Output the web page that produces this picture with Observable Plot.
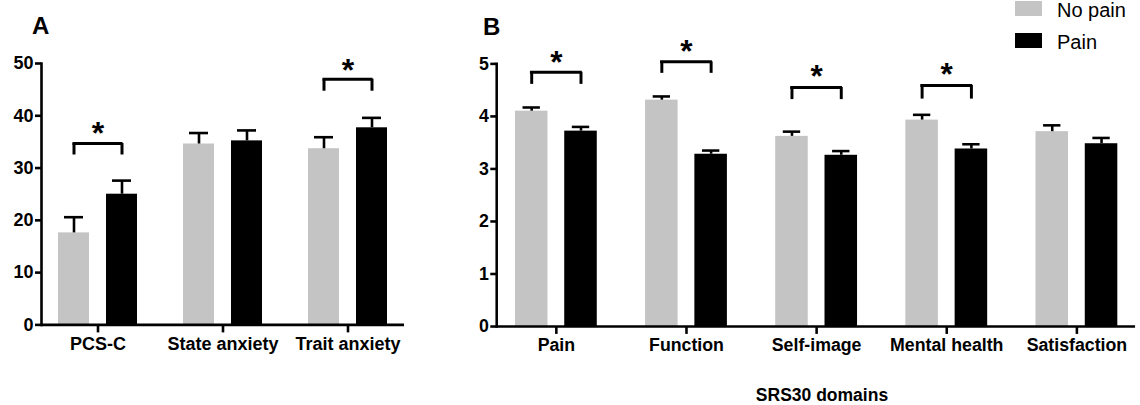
<!DOCTYPE html>
<html>
<head>
<meta charset="utf-8">
<script src="https://cdn.jsdelivr.net/npm/d3@7"></script>
<script src="https://cdn.jsdelivr.net/npm/@observablehq/plot@0.6"></script>
<style>
  html, body { margin: 0; padding: 0; background: #fff; overflow: hidden; }
  #wrap { position: relative; width: 1140px; height: 405px; overflow: hidden; font-family: "Liberation Sans", Arial, sans-serif; }
  .panel { position: absolute; top: 0; }
  .letter { position: absolute; font-weight: bold; font-size: 24px; line-height: 1; }
  .xtitle { position: absolute; font-weight: bold; font-size: 17.5px; line-height: 1; transform: translateX(-50%); white-space: nowrap; }
  .legend { position: absolute; left: 1015px; top: 0; font-size: 20px; }
  .legend .item { position: absolute; left: 0; white-space: nowrap; }
  .legend .sw { position: absolute; left: 0; width: 27px; height: 14.5px; }
  .legend .lab { position: absolute; left: 42px; line-height: 1; }
</style>
</head>
<body>
<div id="wrap"></div>
<script>
// ---------- data ----------
const groups = ["No pain", "Pain"];
const groupColors = ["#c4c4c4", "#000000"];

const catsA = ["PCS-C", "State anxiety", "Trait anxiety"];
const meanA_noPain = [17.6, 34.6, 33.7];
const errA_noPain  = [3.0, 2.1, 2.2];
const meanA_pain   = [25.0, 35.2, 37.7];
const errA_pain    = [2.6, 2.0, 1.9];
const sigA_cats    = ["PCS-C", "Trait anxiety"];
const sigA_low     = [32.5, 44.7];
const sigA_high    = [34.7, 47.0];
const sigA_star    = [38.0, 50.2];
const ticksA = [0, 10, 20, 30, 40, 50];

const catsB = ["Pain", "Function", "Self-image", "Mental health", "Satisfaction"];
const meanB_noPain = [4.10, 4.31, 3.62, 3.93, 3.71];
const errB_noPain  = [0.07, 0.07, 0.09, 0.10, 0.12];
const meanB_pain   = [3.72, 3.28, 3.26, 3.38, 3.48];
const errB_pain    = [0.08, 0.07, 0.08, 0.09, 0.11];
const sigB_cats    = ["Pain", "Function", "Self-image", "Mental health"];
const sigB_low     = [4.61, 4.82, 4.32, 4.33];
const sigB_high    = [4.84, 5.04, 4.55, 4.59];
const sigB_star    = [5.16, 5.37, 4.91, 4.94];
const ticksB = [0, 1, 2, 3, 4, 5];
const xTitleB = "SRS30 domains";

// ---------- helpers ----------
function rows(cats, means, errs) {
  return cats.map((c, i) => ({cat: c, v: means[i], top: means[i] + errs[i]}));
}
function sigRows(cats, lo, hi, st) {
  return cats.map((c, i) => ({cat: c, lo: lo[i], hi: hi[i], star: st[i]}));
}

function buildPanel(cfg) {
  const {cats, nP, eN, p, eP, sc, sl, sh, ss, ticks, width, marginLeft, marginRight, marginTop, marginBottom, height, bw, barW, capW, gap} = cfg;
  const dN = rows(cats, nP, eN);
  const dP = rows(cats, p, eP);
  const sig = sigRows(sc, sl, sh, ss);
  const half = (barW + gap) / 2;
  const sw = 2.6;
  const outer = bw / 2 - (half + barW / 2);
  return Plot.plot({
    width, height, marginLeft, marginRight, marginTop, marginBottom,
    style: {fontFamily: "'Liberation Sans', Arial, sans-serif", fontWeight: "bold", fontSize: "18px", color: "#000", overflow: "visible", background: "transparent"},
    x: {type: "band", domain: cats, paddingInner: cfg.pIn, paddingOuter: cfg.pOut},
    y: {domain: [0, ticks[ticks.length - 1]]},
    marks: [
      Plot.barY(dN, {x: "cat", y: "v", fill: groupColors[0], insetLeft: outer, insetRight: bw - outer - barW}),
      Plot.barY(dP, {x: "cat", y: "v", fill: groupColors[1], insetRight: outer, insetLeft: bw - outer - barW}),
      Plot.ruleX(dN, {x: "cat", y1: "v", y2: "top", dx: -half, stroke: "#000", strokeWidth: sw}),
      Plot.ruleX(dP, {x: "cat", y1: "v", y2: "top", dx: half, stroke: "#000", strokeWidth: sw}),
      Plot.tickY(dN, {x: "cat", y: "top", insetLeft: bw / 2 - half - capW / 2, insetRight: bw / 2 + half - capW / 2, stroke: "#000", strokeWidth: sw}),
      Plot.tickY(dP, {x: "cat", y: "top", insetLeft: bw / 2 + half - capW / 2, insetRight: bw / 2 - half - capW / 2, stroke: "#000", strokeWidth: sw}),
      Plot.ruleX(sig, {x: "cat", y1: "lo", y2: "hi", dx: -half, stroke: "#000", strokeWidth: 3}),
      Plot.ruleX(sig, {x: "cat", y1: "lo", y2: "hi", dx: half, stroke: "#000", strokeWidth: 3}),
      Plot.tickY(sig, {x: "cat", y: "hi", insetLeft: bw / 2 - half - 1.5, insetRight: bw / 2 - half - 1.5, stroke: "#000", strokeWidth: 3}),
      Plot.text(sig, {x: "cat", y: "star", text: () => "*", fontSize: 32, fontWeight: "bold", dy: 8, fill: "#000"}),
      Plot.axisY({ticks, tickFormat: d3.format("d"), tickSize: 6, tickPadding: 2, strokeWidth: sw, fontSize: 18, fontWeight: "bold", fill: "#000", label: null}),
      Plot.axisX({tickSize: 8, tickPadding: 4, strokeWidth: sw, fontSize: 18, fontWeight: "bold", fill: "#000", label: null}),
      Plot.ruleY([0], {stroke: "#000", strokeWidth: sw}),
      Plot.frame({anchor: "left", stroke: "#000", strokeWidth: sw})
    ]
  });
}

const wrap = document.getElementById("wrap");

// Panel A
const svgA = buildPanel({
  cats: catsA, nP: meanA_noPain, eN: errA_noPain, p: meanA_pain, eP: errA_pain,
  sc: sigA_cats, sl: sigA_low, sh: sigA_high, ss: sigA_star, ticks: ticksA,
  width: 420, height: 405, marginLeft: 41, marginRight: 16, marginTop: 63, marginBottom: 80.6,
  pIn: 0.365, pOut: 0.123, bw: 80, barW: 32, gap: 16, capW: 20
});
const dA = document.createElement("div");
dA.className = "panel"; dA.style.left = "0px";
dA.appendChild(svgA); wrap.appendChild(dA);

// Panel B
const svgB = buildPanel({
  cats: catsB, nP: meanB_noPain, eN: errB_noPain, p: meanB_pain, eP: errB_pain,
  sc: sigB_cats, sl: sigB_low, sh: sigB_high, ss: sigB_star, ticks: ticksB,
  width: 710, height: 405, marginLeft: 57, marginRight: 5, marginTop: 64.3, marginBottom: 74.3,
  pIn: 0.372, pOut: 0.123, bw: 83.4, barW: 33.4, gap: 16.6, capW: 18
});
const dB = document.createElement("div");
dB.className = "panel"; dB.style.left = "440px";
dB.appendChild(svgB); wrap.appendChild(dB);

// Panel letters
[["A", 32, 14], ["B", 483, 15]].forEach(([t, x, y]) => {
  const el = document.createElement("div");
  el.className = "letter"; el.textContent = t;
  el.style.left = x + "px"; el.style.top = y + "px";
  wrap.appendChild(el);
});

// x-axis title of panel B
const xt = document.createElement("div");
xt.className = "xtitle"; xt.textContent = xTitleB;
xt.style.left = "822px"; xt.style.top = "387px";
wrap.appendChild(xt);

// Legend
const lg = document.createElement("div");
lg.className = "legend";
groups.forEach((g, i) => {
  const it = document.createElement("div");
  it.className = "item"; it.style.top = (1 + i * 32.4) + "px";
  const sw = document.createElement("div");
  sw.className = "sw"; sw.style.background = groupColors[i];
  const lab = document.createElement("div");
  lab.className = "lab"; lab.textContent = g; lab.style.top = "-1px";
  it.appendChild(sw); it.appendChild(lab); lg.appendChild(it);
});
wrap.appendChild(lg);
</script>
</body>
</html>
